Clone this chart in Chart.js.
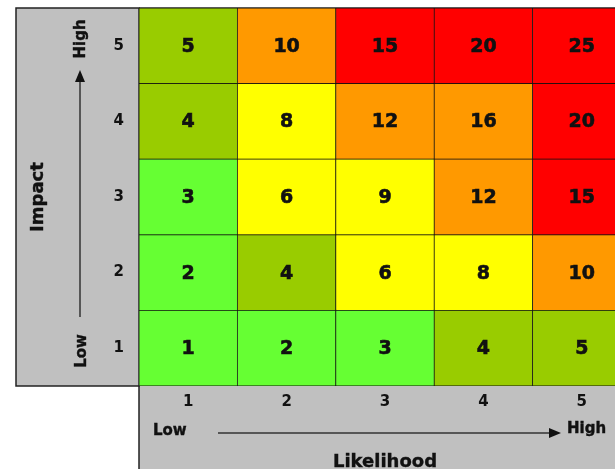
<!DOCTYPE html>
<html>
<head>
<meta charset="utf-8">
<script src="https://cdn.jsdelivr.net/npm/chart.js@4"></script>
<style>
  html, body { margin: 0; padding: 0; background: #fff; overflow: hidden; }
  #wrap { position: absolute; left: 0; top: 0; }
</style>
</head>
<body>
<div id="wrap"><canvas id="riskMatrix" width="632" height="469"></canvas></div>
<script>
// likelihood along the bottom, impact up the side
var likelihood = ['1', '2', '3', '4', '5'];
var impactLabels = ['5', '4', '3', '2', '1'];
// rows are impact 1..5, columns likelihood 1..5
var scores = [
    [1, 2, 3, 4, 5],
    [2, 4, 6, 8, 10],
    [3, 6, 9, 12, 15],
    [4, 8, 12, 16, 20],
    [5, 10, 15, 20, 25]
];
var levels = [
    ['low', 'low', 'low', 'minor', 'minor'],
    ['low', 'minor', 'med', 'med', 'high'],
    ['low', 'med', 'med', 'high', 'extreme'],
    ['minor', 'med', 'high', 'high', 'extreme'],
    ['minor', 'high', 'extreme', 'extreme', 'extreme']
];
var levelColours = {
    low: '#66ff33',
    minor: '#99cc00',
    med: '#ffff00',
    high: '#ff9900',
    extreme: '#ff0000'
};

var FONT = '"DejaVu Sans", Verdana, sans-serif';
var GREY = '#c0c0c0';
var INK = '#111';

var datasets = scores.map(function (row, r) {
    return {
        label: 'Impact ' + (r + 1),
        data: row.map(function () { return 1; }),
        backgroundColor: levels[r].map(function (lv) { return levelColours[lv]; }),
        borderColor: '#111',
        borderWidth: 0.75,
        borderSkipped: false,
        barPercentage: 1,
        categoryPercentage: 1
    };
});

var panels = {
    id: 'panels',
    beforeDraw: function (chart) {
        var ctx = chart.ctx, a = chart.chartArea;
        ctx.save();
        ctx.fillStyle = GREY;
        ctx.fillRect(16, a.top, a.left - 16, a.bottom - a.top);
        ctx.fillRect(a.left, a.bottom, chart.width - a.left, chart.height - a.bottom);
        ctx.strokeStyle = '#222';
        ctx.lineWidth = 1.5;
        ctx.strokeRect(16, a.top, a.left - 16, a.bottom - a.top);
        ctx.beginPath();
        ctx.moveTo(a.left, a.bottom);
        ctx.lineTo(a.left, chart.height);
        ctx.moveTo(a.left, a.top);
        ctx.lineTo(chart.width, a.top);
        ctx.stroke();
        ctx.restore();
    },
    afterDatasetsDraw: function (chart) {
        var ctx = chart.ctx, a = chart.chartArea;
        ctx.save();
        // cell scores
        ctx.fillStyle = INK;
        ctx.strokeStyle = INK;
        ctx.lineWidth = 0.6;
        ctx.font = 'bold 19px ' + FONT;
        ctx.textAlign = 'center';
        ctx.textBaseline = 'middle';
        chart.data.datasets.forEach(function (ds, r) {
            chart.getDatasetMeta(r).data.forEach(function (bar, c) {
                var cy = (bar.y + bar.base) / 2 + 1;
                ctx.fillText(String(scores[r][c]), bar.x, cy);
                ctx.strokeText(String(scores[r][c]), bar.x, cy);
            });
        });

        // vertical arrow (Impact)
        ctx.strokeStyle = '#333';
        ctx.lineWidth = 1.5;
        ctx.beginPath();
        ctx.moveTo(80, 317);
        ctx.lineTo(80, 80);
        ctx.stroke();
        ctx.beginPath();
        ctx.moveTo(80, 70);
        ctx.lineTo(75, 82);
        ctx.lineTo(85, 82);
        ctx.closePath();
        ctx.fill();

        // horizontal arrow (Likelihood)
        ctx.beginPath();
        ctx.moveTo(218, 433);
        ctx.lineTo(550, 433);
        ctx.stroke();
        ctx.beginPath();
        ctx.moveTo(561, 433);
        ctx.lineTo(549, 428);
        ctx.lineTo(549, 438);
        ctx.closePath();
        ctx.fill();

        ctx.strokeStyle = INK;
        ctx.lineWidth = 0.4;
        function htext(txt, x, y) {
            ctx.fillText(txt, x, y);
            ctx.strokeText(txt, x, y);
        }
        function vtext(txt, x, y) {
            ctx.save();
            ctx.translate(x, y);
            ctx.rotate(-Math.PI / 2);
            htext(txt, 0, 0);
            ctx.restore();
        }
        ctx.font = 'bold 15px ' + FONT;
        ctx.textAlign = 'left';
        htext('Low', 153, 431);
        htext('High', 567, 429);

        ctx.font = 'bold 18px ' + FONT;
        ctx.textAlign = 'center';
        htext('Likelihood', (a.left + a.right) / 2, 462);

        ctx.font = 'bold 15px ' + FONT;
        vtext('High', 81, 39);
        vtext('Low', 82, 351);
        ctx.font = 'bold 18px ' + FONT;
        vtext('Impact', 38, (a.top + a.bottom) / 2);
        ctx.restore();
    }
};

var tickFont = { family: FONT, size: 15, weight: 'bold' };

var chart = new Chart(document.getElementById('riskMatrix'), {
    type: 'bar',
    data: { labels: likelihood, datasets: datasets },
    options: {
        responsive: false,
        animation: false,
        layout: { padding: { left: 16, top: 8, right: 1, bottom: 0 } },
        plugins: { legend: { display: false }, tooltip: { enabled: false } },
        scales: {
            x: {
                stacked: true,
                grid: { display: false, drawTicks: false },
                border: { display: false },
                ticks: { color: INK, font: tickFont, padding: 7 },
                afterFit: function (scale) {
                    scale.height = 83;
                    scale.paddingLeft = 0;
                    scale.paddingRight = 0;
                }
            },
            y: {
                stacked: true,
                display: false,
                min: 0,
                max: 5
            },
            yl: {
                type: 'category',
                position: 'left',
                labels: impactLabels,
                offset: true,
                grid: { display: false, drawTicks: false },
                border: { display: false },
                ticks: { color: INK, font: tickFont, padding: 15 },
                afterFit: function (scale) {
                    scale.width = 123;
                    scale.paddingTop = 0;
                    scale.paddingBottom = 0;
                }
            }
        }
    },
    plugins: [panels]
});
</script>
</body>
</html>
